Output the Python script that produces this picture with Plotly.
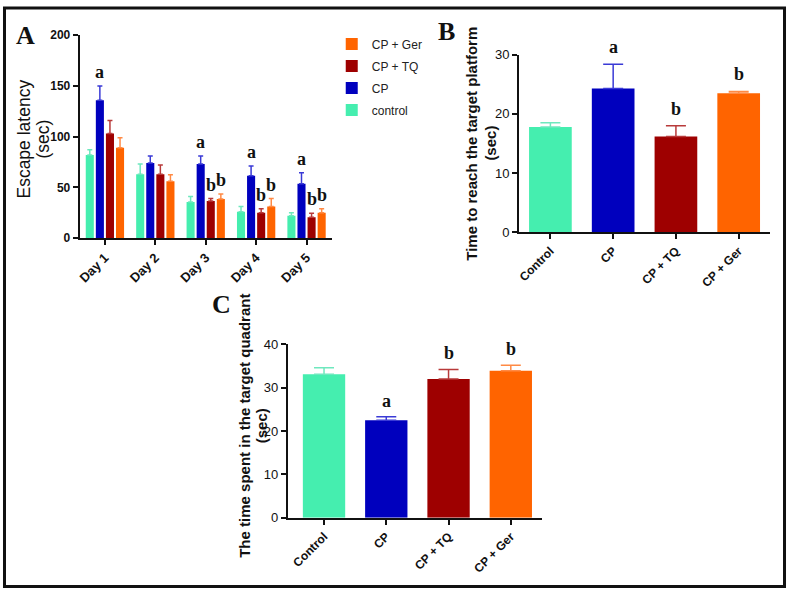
import plotly.graph_objects as go

W, H = 787, 598

# ---------------- data ----------------
days = ["Day 1", "Day 2", "Day 3", "Day 4", "Day 5"]
groups = ["Control", "CP", "CP + TQ", "CP + Ger"]
series_names = ["control", "CP", "CP + TQ", "CP + Ger"]
colors = ["#45EEAF", "#0000BE", "#9E0000", "#FF6400"]
err_colors = ["#6FE8BE", "#3A3AD6", "#B83A3A", "#FF8A45"]

# Panel A: escape latency (sec)
latency_control = [82, 63, 35.5, 26, 22]
latency_cp = [136, 74, 73, 61.5, 53.5]
latency_tq = [103, 63, 36.5, 25, 20.5]
latency_ger = [89, 56, 38.5, 31, 25]
latency_err_control = [5, 10, 5.5, 5, 3]
latency_err_cp = [14, 7, 8, 9.5, 11]
latency_err_tq = [13, 9, 2.5, 4, 4]
latency_err_ger = [10, 6.5, 5, 8, 4]
sig_cp = ["a", "", "a", "a", "a"]
sig_tq = ["", "", "b", "b", "b"]
sig_ger = ["", "", "b", "b", "b"]

# Panel B: time to reach target platform (sec)
platform_time = [17.8, 24.3, 16.2, 23.5]
platform_err = [0.7, 4.1, 1.8, 0.3]
platform_sig = ["", "a", "b", "b"]

# Panel C: time spent in target quadrant (sec)
quadrant_time = [33.1, 22.5, 32.0, 33.9]
quadrant_err = [1.5, 0.8, 2.2, 1.3]
quadrant_sig = ["", "a", "b", "b"]

# ---------------- helpers ----------------
def px(x):
    return x / W

def py(y):
    return 1 - y / H

fig = go.Figure()

a_vals = [latency_control, latency_cp, latency_tq, latency_ger]
a_errs = [latency_err_control, latency_err_cp, latency_err_tq, latency_err_ger]
for i in range(4):
    fig.add_trace(go.Bar(
        x=days, y=a_vals[i], name=series_names[i],
        marker=dict(color=colors[i], line=dict(width=0)),
        error_y=dict(type="data", symmetric=False, array=a_errs[i],
                     arrayminus=[0] * len(days), color=err_colors[i],
                     thickness=1.5, width=2.5),
        xaxis="x", yaxis="y", offsetgroup=str(i), legendgroup=str(i),
        legendrank=4 - i,
    ))

for i in range(4):
    fig.add_trace(go.Bar(
        x=[groups[i]], y=[platform_time[i]], showlegend=False,
        marker=dict(color=colors[i], line=dict(width=0)), width=0.68,
        error_y=dict(type="data", symmetric=False, array=[platform_err[i]],
                     arrayminus=[0], color=err_colors[i], thickness=1.5, width=10),
        xaxis="x2", yaxis="y2", offsetgroup="B",
    ))
    fig.add_trace(go.Bar(
        x=[groups[i]], y=[quadrant_time[i]], showlegend=False,
        marker=dict(color=colors[i], line=dict(width=0)), width=0.68,
        error_y=dict(type="data", symmetric=False, array=[quadrant_err[i]],
                     arrayminus=[0], color=err_colors[i], thickness=1.5, width=10),
        xaxis="x3", yaxis="y3", offsetgroup="C",
    ))

axis_common = dict(showline=True, linecolor="#111111", linewidth=2,
                   ticks="outside", ticklen=5, tickwidth=2, tickcolor="#111111",
                   showgrid=False, zeroline=False, fixedrange=True)
cat_font = dict(family="Liberation Sans, Arial", size=12, color="#111111", weight="bold")

fig.update_layout(
    width=W, height=H, autosize=False,
    margin=dict(l=0, r=0, t=0, b=0),
    paper_bgcolor="white", plot_bgcolor="white",
    barmode="group", bargap=0.2, bargroupgap=0.2,
    showlegend=True,
    legend=dict(x=px(330), y=py(23), xanchor="left", yanchor="top",
                traceorder="grouped", tracegroupgap=3,
                font=dict(family="Liberation Sans, Arial", size=12, color="#222222"),
                bgcolor="rgba(0,0,0,0)"),
    xaxis=dict(domain=[px(77), px(330)], anchor="y", tickangle=-45,
               tickfont=dict(family="Liberation Sans, Arial", size=13, color="#111111", weight="bold"),
               **axis_common),
    yaxis=dict(domain=[py(237), py(29)], anchor="x", range=[0, 200], dtick=50,
               tickfont=dict(family="Liberation Sans, Arial", size=12, color="#111111", weight="bold"),
               **axis_common),
    xaxis2=dict(domain=[px(518), px(770)], anchor="y2", tickangle=-45,
                tickfont=cat_font, **axis_common),
    yaxis2=dict(domain=[py(231), py(49)], anchor="x2", range=[0, 30], dtick=10,
                tickfont=dict(family="Liberation Sans, Arial", size=13, color="#111111"),
                **axis_common),
    xaxis3=dict(domain=[px(286), px(541)], anchor="y3", tickangle=-45,
                range=[-0.58, 3.5], tickfont=cat_font, **axis_common),
    yaxis3=dict(domain=[py(524), py(346)], anchor="x3", range=[0, 40], dtick=10,
                tickfont=dict(family="Liberation Sans, Arial", size=13, color="#111111"),
                **axis_common),
)

ann = []
letter_font = dict(family="Liberation Serif, Times New Roman", size=18, color="#111111", weight="bold")
offsets = [-0.3, -0.1, 0.1, 0.3]
sig_sets = [(1, sig_cp), (2, sig_tq), (3, sig_ger)]
for si, sigs in sig_sets:
    for d in range(len(days)):
        if sigs[d]:
            ann.append(dict(x=d + offsets[si], y=a_vals[si][d] + a_errs[si][d],
                            xref="x", yref="y", text=sigs[d], showarrow=False,
                            xanchor="center", yanchor="middle", yshift=14, font=letter_font))
for i in range(4):
    if platform_sig[i]:
        ann.append(dict(x=i, y=platform_time[i] + platform_err[i], xref="x2", yref="y2",
                        text=platform_sig[i], showarrow=False, xanchor="center",
                        yanchor="middle", yshift=17, font=letter_font))
    if quadrant_sig[i]:
        ann.append(dict(x=i, y=quadrant_time[i] + quadrant_err[i], xref="x3", yref="y3",
                        text=quadrant_sig[i], showarrow=False, xanchor="center",
                        yanchor="middle", yshift=16, font=letter_font))

title_common = dict(xref="paper", yref="paper", textangle=-90, showarrow=False,
                    xanchor="center", yanchor="middle")
titleA = dict(family="Liberation Sans, Arial", size=17.5, color="#111111")
titleB = dict(family="Liberation Sans, Arial", size=15, color="#111111", weight="bold")
titleC = dict(family="Liberation Sans, Arial", size=15, color="#111111", weight="bold")
ann.append(dict(x=px(21), y=py(135), text="Escape latency", font=titleA, **title_common))
ann.append(dict(x=px(40), y=py(135), text="(sec)", font=titleA, **title_common))
ann.append(dict(x=px(470), y=py(140), text="Time to reach the target platform", font=titleB, **title_common))
ann.append(dict(x=px(489), y=py(140), text="(sec)", font=titleB, **title_common))
ann.append(dict(x=px(242.5), y=py(430), text="The time spent in the target quadrant", font=titleC, **title_common))
ann.append(dict(x=px(259), y=py(430), text="(sec)", font=titleC, **title_common))

panel_font = dict(family="Liberation Serif, Times New Roman", size=26, color="#111111", weight="bold")
for lbl, lx, ly in [("A", 23, 29), ("B", 445, 25), ("C", 219, 305)]:
    ann.append(dict(x=px(lx), y=py(ly), xref="paper", yref="paper", text=lbl,
                    showarrow=False, xanchor="center", yanchor="middle", font=panel_font))

fig.update_layout(annotations=ann)

fig.add_shape(type="rect", xref="paper", yref="paper",
              x0=px(1.5), x1=px(784.5), y0=py(594.5), y1=py(1),
              line=dict(color="#111111", width=3))

fig.write_html("out.html", config={"displayModeBar": False},
               post_script="document.body.style.margin='0';")
